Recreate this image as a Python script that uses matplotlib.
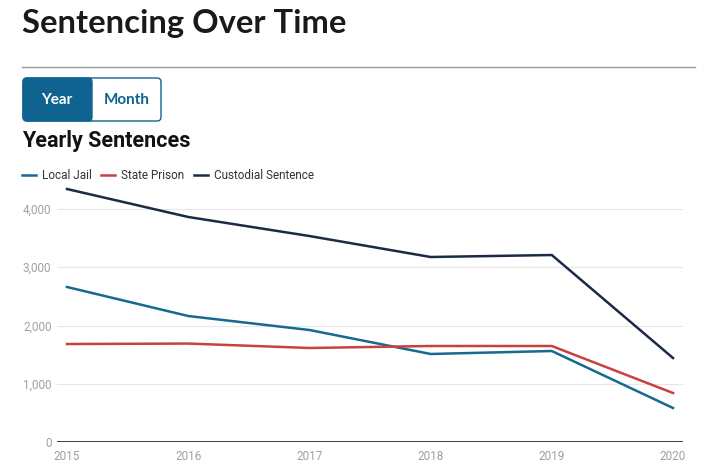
import matplotlib
matplotlib.use("Agg")
import matplotlib.pyplot as plt
from matplotlib.patches import FancyBboxPatch

years = [2015, 2016, 2017, 2018, 2019, 2020]
local_jail = [2661, 2163, 1923, 1511, 1562, 584]
state_prison = [1682, 1690, 1614, 1648, 1648, 841]
custodial = [4343, 3863, 3536, 3176, 3210, 1442]
series_names = ["Local Jail", "State Prison", "Custodial Sentence"]
colors = ["#176a8e", "#c8413f", "#1b2a45"]
yticks = [0, 1000, 2000, 3000, 4000]

W, H = 701, 468
fig = plt.figure(figsize=(W / 100, H / 100), dpi=100)
fig.patch.set_facecolor("white")

# main axes in pixel placement
left, right, bottom_px, top_px = 57, 683, 442, 186
ax = fig.add_axes([left / W, (H - bottom_px) / H, (right - left) / W, (bottom_px - top_px) / H])
ymax = (bottom_px - top_px) / 58.25 * 1000
ax.set_ylim(0, ymax)
ppy = (673 - 67) / 5
ax.set_xlim(2015 - 10 / ppy, 2020 + 10 / ppy)

for vals, c in zip([local_jail, state_prison, custodial], colors):
    ax.plot(years, vals, color=c, lw=1.8, solid_joinstyle="miter", zorder=3)

ax.set_yticks(yticks)
ax.set_yticklabels([f"{v:,}" for v in yticks])
ax.set_xticks(years)
ax.set_xticklabels([str(y) for y in years])
ax.tick_params(axis="both", length=0, labelsize=8.5, labelcolor="#a0a0a0")
ax.tick_params(axis="y", pad=4)
ax.tick_params(axis="x", pad=6)
for lab in ax.get_xticklabels() + ax.get_yticklabels():
    lab.set_fontfamily("Roboto")
ax.grid(axis="y", color="#e6e6e6", lw=0.8)
ax.set_axisbelow(True)
for s in ax.spines.values():
    s.set_visible(False)
ax.axhline(0, color="#222222", lw=1.2, zorder=2)

# overlay for header elements in pixel coordinates
ov = fig.add_axes([0, 0, 1, 1], zorder=-1)
ov.set_xlim(0, W)
ov.set_ylim(H, 0)
ov.axis("off")

ov.text(22, 33, "Sentencing Over Time", fontsize=23.6, fontweight="bold",
        family="Lato", color="#1a1a1a", va="baseline", ha="left")
ov.plot([22, 695], [67, 67], color="#9a9a9a", lw=1)

blue = "#0f6390"
ov.add_patch(FancyBboxPatch((23, 78), 138, 43, boxstyle="round,pad=0,rounding_size=4",
                            facecolor="white", edgecolor=blue, lw=1))
ov.add_patch(FancyBboxPatch((23, 78), 69, 43, boxstyle="round,pad=0,rounding_size=4",
                            facecolor=blue, edgecolor=blue, lw=1))
ov.add_patch(plt.Rectangle((80, 78), 12, 43, facecolor=blue, edgecolor="none"))
ov.text(57, 100, "Year", fontsize=11, fontweight="bold", family="Lato",
        color="white", ha="center", va="center")
ov.text(126.5, 100, "Month", fontsize=11, fontweight="bold", family="Lato",
        color=blue, ha="center", va="center")

ov.text(22, 147, "Yearly Sentences", fontsize=15.5, fontweight="bold",
        family="Roboto", color="#111111", va="baseline", ha="left")

legend_pos = [(22, 42), (101, 121), (194, 214)]
for (hx, tx), name, c in zip(legend_pos, series_names, colors):
    ov.plot([hx, hx + 14], [175, 175], color=c, lw=1.8)
    ov.text(tx, 175.5, name, fontsize=8.5, family="Roboto", color="#333333",
            va="center", ha="left")

fig.savefig("out.png", dpi=100)
